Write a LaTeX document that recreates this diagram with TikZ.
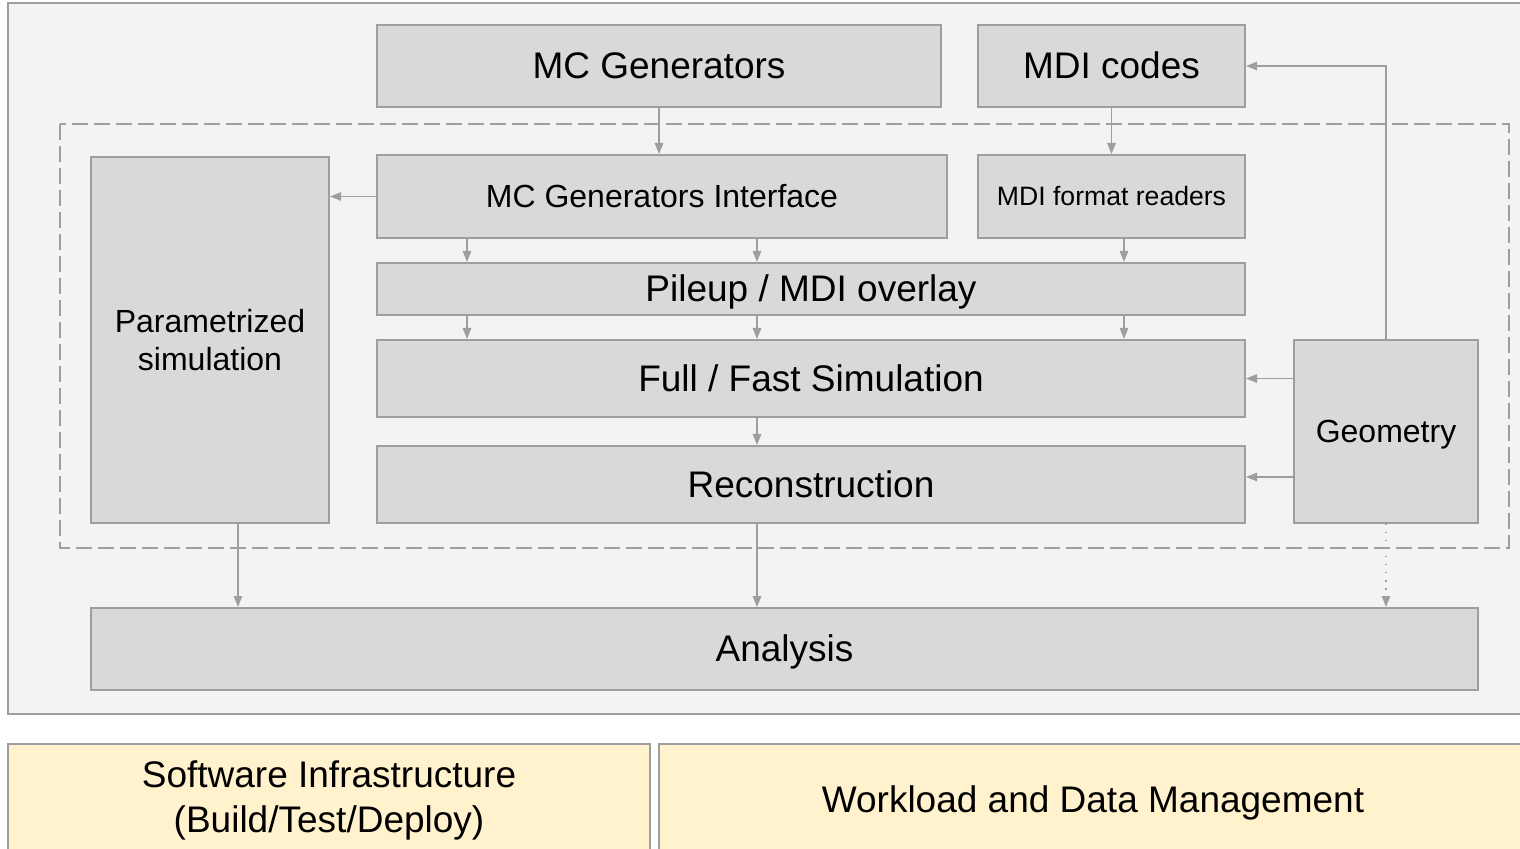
\documentclass[tikz,border=0pt]{standalone}
\usepackage{fontspec}
\setmainfont{Liberation Sans}
\usepackage{xcolor}
\usetikzlibrary{arrows.meta,positioning,calc}
\definecolor{boxfill}{HTML}{D9D9D9}
\definecolor{boxline}{HTML}{9E9E9E}
\definecolor{framefill}{HTML}{F3F3F3}
\definecolor{infrafill}{HTML}{FFF2CC}

\begin{document}
\begin{tikzpicture}[
  x=0.5pt, y=-0.5pt,
  box/.style={draw=boxline, line width=1pt, fill=boxfill, align=center, inner sep=0pt, font=\fontsize{18.5pt}{22.2pt}\selectfont},
  oneline/.style={text height=16.7pt, text depth=3.9pt},
  midbox/.style={box, font=\fontsize{16pt}{19pt}\selectfont},
  midline/.style={text height=14.5pt, text depth=3.4pt},
  infrabox/.style={box, fill=infrafill},
  frame/.style={draw=boxline, line width=1pt, fill=framefill},
  group/.style={draw=boxline, line width=0.75pt, dash pattern=on 8pt off 3pt},
  arrow/.style={-{Triangle[length=5.5pt, width=4.2pt]}, line width=0.75pt, draw=boxline},
  dotarrow/.style={arrow, dash pattern=on 0.75pt off 3.25pt}
]
\clip (0,0) rectangle (1520,849);
\fill[white] (0,0) rectangle (1520,849);

% main area
\draw[frame] (8,3) rectangle (1535,714);
\draw[group] (60,124) rectangle (1509,548);

% columns for the vertical arrows
\coordinate (c0) at (238,0);
\coordinate (c1) at (467,0);
\coordinate (c2) at (757,0);
\coordinate (c3) at (1124,0);
\coordinate (r1) at (0,477);

\node[box, oneline, minimum width=282pt, minimum height=41pt] (mcgen) at (659,66) {MC Generators};
\node[box, oneline, minimum width=133.5pt, minimum height=41pt] (mdicodes) at (1111.5,66) {MDI codes};
\node[midbox, midline, minimum width=285pt, minimum height=41.5pt] (mcgi) at (662,196.5) {MC Generators Interface};
\node[box, font=\fontsize{13.3pt}{16pt}\selectfont, text height=12pt, text depth=2.8pt, minimum width=133.5pt, minimum height=41.5pt] (mdireaders) at (1111.5,196.5) {MDI format readers};
\node[box, oneline, minimum width=434pt, minimum height=26pt] (pileup) at (811,289) {Pileup / MDI overlay};
\node[box, oneline, minimum width=434pt, minimum height=38.5pt] (sim) at (811,378.5) {Full / Fast Simulation};
\node[box, oneline, minimum width=434pt, minimum height=38.5pt] (reco) at (811,484.5) {Reconstruction};
\node[midbox, minimum width=119pt, minimum height=183pt] (paramsim) at (210,340) {Parametrized\\simulation};
\node[midbox, midline, minimum width=92pt, minimum height=91.5pt] (geometry) at (1386,431.5) {Geometry};
\node[box, oneline, minimum width=693.5pt, minimum height=41pt] (analysis) at (784.5,649) {Analysis};

% infrastructure
\node[infrabox, font=\fontsize{18.5pt}{22.5pt}\selectfont, minimum width=321pt, minimum height=56pt] (infra) at (329,800) {Software Infrastructure\\(Build/Test/Deploy)};
\node[infrabox, oneline, minimum width=434pt, minimum height=56pt] (wdm) at (1093,800) {Workload and Data Management};

\draw[arrow] (mcgen.south) -- (mcgen.south |- mcgi.north);
\draw[arrow] (mdicodes) -- (mdireaders);
\draw[arrow] (mcgi.west) -- (mcgi.west -| paramsim.east);
\draw[arrow] (mcgi.south -| c1) -- (pileup.north -| c1);
\draw[arrow] (mcgi.south -| c2) -- (pileup.north -| c2);
\draw[arrow] (mdireaders.south -| c3) -- (pileup.north -| c3);
\draw[arrow] (pileup.south -| c1) -- (sim.north -| c1);
\draw[arrow] (pileup.south -| c2) -- (sim.north -| c2);
\draw[arrow] (pileup.south -| c3) -- (sim.north -| c3);
\draw[arrow] (sim.south -| c2) -- (reco.north -| c2);
\draw[arrow] (geometry.west |- sim.east) -- (sim.east);
\draw[arrow] (geometry.west |- r1) -- (reco.east |- r1);
\draw[arrow] (geometry.north) |- (mdicodes.east);
\draw[arrow] (paramsim.south -| c0) -- (analysis.north -| c0);
\draw[arrow] (reco.south -| c2) -- (analysis.north -| c2);
\draw[dotarrow] (geometry.south) -- (geometry.south |- analysis.north);
\end{tikzpicture}
\end{document}
